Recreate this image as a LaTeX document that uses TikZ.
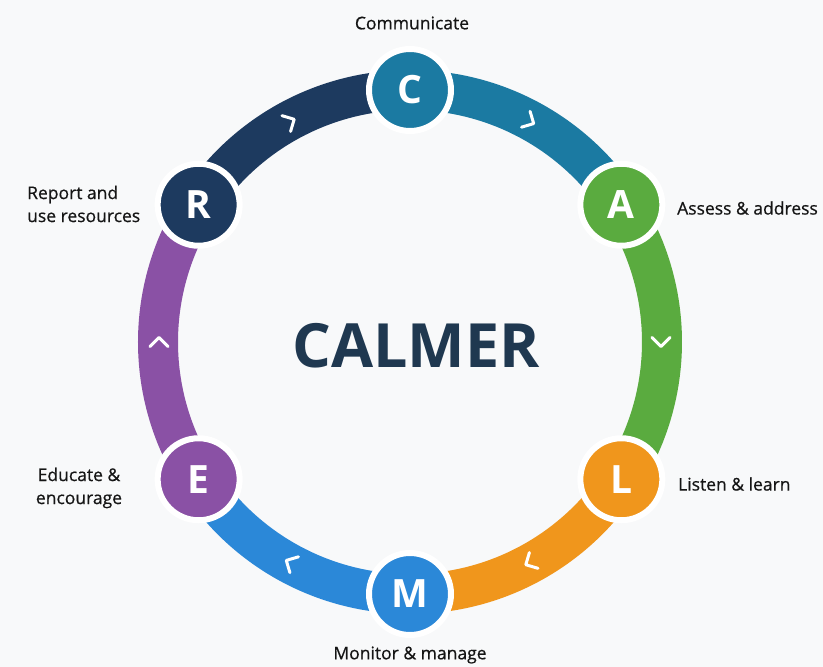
\documentclass[tikz,border=0pt]{standalone}
\usepackage{fontspec}
\setmainfont{Open Sans}
\newfontfamily\capfont[FakeBold=0.6]{Open Sans}
\definecolor{bgcol}{HTML}{F8F9FA}
\definecolor{labelcol}{HTML}{151515}
\definecolor{titlecol}{HTML}{1F3850}
\definecolor{cteal}{HTML}{1B7AA2}
\definecolor{cgreen}{HTML}{5AAB3F}
\definecolor{corange}{HTML}{F0961C}
\definecolor{cblue}{HTML}{2B88D8}
\definecolor{cpurple}{HTML}{8A51A5}
\definecolor{cnavy}{HTML}{1D3A5F}
\begin{document}
\begin{tikzpicture}[x=1pt,y=1pt,
  ring/.style={line width=40pt},
  stage/.style={circle, minimum size=82pt, inner sep=0pt, draw=white,
    line width=6pt, text=white, font=\bfseries\fontsize{39}{39}\selectfont},
  chev/.style={draw=white, line width=3pt, line cap=round, line join=round},
  caption/.style={text=labelcol, font=\capfont\fontsize{17.5}{23}\selectfont, inner sep=0pt}]
% canvas
\fill[bgcol] (-410,-325) rectangle (413,342);
\useasboundingbox (-410,-325) rectangle (413,342);
\coordinate (O) at (0,0);
% stage positions on the ring
\coordinate (pC) at (90:252);
\coordinate (pA) at (33:252);
\coordinate (pL) at (-33:252);
\coordinate (pM) at (-90:252);
\coordinate (pE) at (213:252);
\coordinate (pR) at (147:252);
% ring segments, each in the colour of the stage it leaves
\draw[ring, cteal]   (pC) arc[start angle=90,  end angle=33,  radius=252pt];
\draw[ring, cgreen]  (pA) arc[start angle=33,  end angle=-33, radius=252pt];
\draw[ring, corange] (pL) arc[start angle=-33, end angle=-90, radius=252pt];
\draw[ring, cblue]   (pM) arc[start angle=-90, end angle=-147, radius=252pt];
\draw[ring, cpurple] (pE) arc[start angle=213, end angle=147, radius=252pt];
\draw[ring, cnavy]   (pR) arc[start angle=147, end angle=90,  radius=252pt];
% clockwise chevrons
\foreach \a in {61.5, 0, -61.5, -118.5, 180, 118.5} {
  \begin{scope}[shift={(\a:251)}, rotate=\a-90]
    \draw[chev] (-4.5,9) -- (4.5,0) -- (-4.5,-9);
  \end{scope}
}
% stage discs
\node[stage, fill=cteal]   (C) at (pC) {C};
\node[stage, fill=cgreen]  (A) at (pA) {A};
\node[stage, fill=corange] (L) at (pL) {L};
\node[stage, fill=cblue]   (M) at (pM) {M};
\node[stage, fill=cpurple] (E) at (pE) {E};
\node[stage, fill=cnavy]   (R) at (pR) {R};
% title
\node[text=titlecol, font=\bfseries\fontsize{61}{61}\selectfont] (title) at (6,-4) {CALMER};
% captions
\node[caption] (tC) at (2,319) {Communicate};
\node[caption, anchor=west] (tA) at (267,134) {Assess \& address};
\node[caption, anchor=west] (tL) at (268,-142) {Listen \& learn};
\node[caption] (tM) at (0,-313) {Monitor \& manage};
\node[caption, align=center] (tE) at (-331,-146) {Educate \&\\encourage};
\node[caption, align=left, anchor=west] (tR) at (-383,138) {Report and\\use resources};
\end{tikzpicture}
\end{document}
